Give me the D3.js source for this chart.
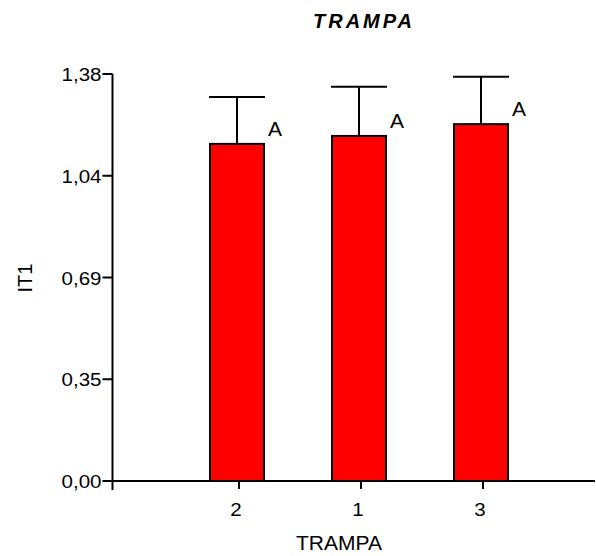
<!DOCTYPE html>
<html>
<head>
<meta charset="utf-8">
<script src="https://cdn.jsdelivr.net/npm/d3@7"></script>
<style>
  html, body { margin: 0; padding: 0; background: #fff; }
  svg { display: block; font-family: Arial, "Liberation Sans", sans-serif; }
</style>
</head>
<body>
<svg id="chart" width="596" height="556"></svg>
<script>
// Group means and upper error (mean + SD) per trap
const categories = ["2", "1", "3"];
const means = [1.143, 1.170, 1.210];
const errors = [0.159, 0.167, 0.161];
const groupLetters = ["A", "A", "A"];

// Y axis ticks and their printed labels
const yTickValues = [0, 0.345, 0.69, 1.035, 1.38];
const yTickLabels = ["0,00", "0,35", "0,69", "1,04", "1,38"];

const svg = d3.select("#chart");

const axisX0 = 112.5;
const y = d3.scaleLinear().domain([0, 1.38]).range([481, 74]);
const x = d3.scalePoint().domain(categories).range([237, 481]);
const barW = 54;

const ink = "#000";

// Bars
svg.append("g").selectAll("rect")
  .data(categories)
  .join("rect")
  .attr("x", (d) => x(d) - barW / 2)
  .attr("y", (d, i) => y(means[i]))
  .attr("width", barW)
  .attr("height", (d, i) => y(0) - y(means[i]))
  .attr("fill", "#ff0000")
  .attr("stroke", ink)
  .attr("stroke-width", 2);

// Error bars (upper only)
const eb = svg.append("g").attr("stroke", ink).attr("stroke-width", 2);
categories.forEach((c, i) => {
  eb.append("line")
    .attr("x1", x(c)).attr("x2", x(c))
    .attr("y1", y(means[i])).attr("y2", y(means[i] + errors[i]));
  eb.append("line")
    .attr("x1", x(c) - barW / 2 - 1).attr("x2", x(c) + barW / 2 + 1)
    .attr("y1", y(means[i] + errors[i])).attr("y2", y(means[i] + errors[i]));
});

// Significance letters
svg.append("g").selectAll("text")
  .data(categories)
  .join("text")
  .attr("x", (d) => x(d) + 31)
  .attr("y", (d, i) => y(means[i]) - 8)
  .attr("font-size", 21)
  .attr("fill", ink)
  .text((d, i) => groupLetters[i]);

// Y axis
const yAxis = svg.append("g");
yAxis.append("line")
  .attr("x1", axisX0).attr("x2", axisX0)
  .attr("y1", y(1.38)).attr("y2", y(0))
  .attr("stroke", ink).attr("stroke-width", 2);
yTickValues.forEach((v, i) => {
  yAxis.append("line")
    .attr("x1", axisX0 - 10).attr("x2", axisX0)
    .attr("y1", y(v)).attr("y2", y(v))
    .attr("stroke", ink).attr("stroke-width", 2);
  yAxis.append("text")
    .attr("transform", `translate(${axisX0 - 11},${y(v) + 7}) scale(1.08,1)`)
    .attr("text-anchor", "end")
    .attr("font-size", 19)
    .attr("fill", ink)
    .text(yTickLabels[i]);
});

// X axis
const xAxis = svg.append("g");
xAxis.append("line")
  .attr("x1", axisX0 - 1).attr("x2", 595)
  .attr("y1", y(0)).attr("y2", y(0))
  .attr("stroke", ink).attr("stroke-width", 2);
xAxis.append("line")
  .attr("x1", axisX0).attr("x2", axisX0)
  .attr("y1", y(0)).attr("y2", y(0) + 9)
  .attr("stroke", ink).attr("stroke-width", 2);
categories.forEach((c) => {
  xAxis.append("line")
    .attr("x1", x(c) + 2).attr("x2", x(c) + 2)
    .attr("y1", y(0)).attr("y2", y(0) + 8)
    .attr("stroke", ink).attr("stroke-width", 2);
  xAxis.append("text")
    .attr("transform", `translate(${x(c) - 1},${516}) scale(1.08,1)`)
    .attr("text-anchor", "middle")
    .attr("font-size", 19)
    .attr("fill", ink)
    .text(c);
});

// Axis titles
svg.append("text")
  .attr("transform", `translate(339,550) scale(1.05,1)`)
  .attr("text-anchor", "middle")
  .attr("font-size", 20)
  .attr("fill", ink)
  .text("TRAMPA");

svg.append("text")
  .attr("transform", "translate(32,278) rotate(-90)")
  .attr("text-anchor", "middle")
  .attr("font-size", 20)
  .attr("fill", ink)
  .text("IT1");

// Chart title
svg.append("text")
  .attr("x", 364)
  .attr("y", 28)
  .attr("text-anchor", "middle")
  .attr("font-size", 20)
  .attr("font-weight", "bold")
  .attr("font-style", "italic")
  .attr("letter-spacing", 3)
  .attr("fill", ink)
  .text("TRAMPA");
</script>
</body>
</html>
